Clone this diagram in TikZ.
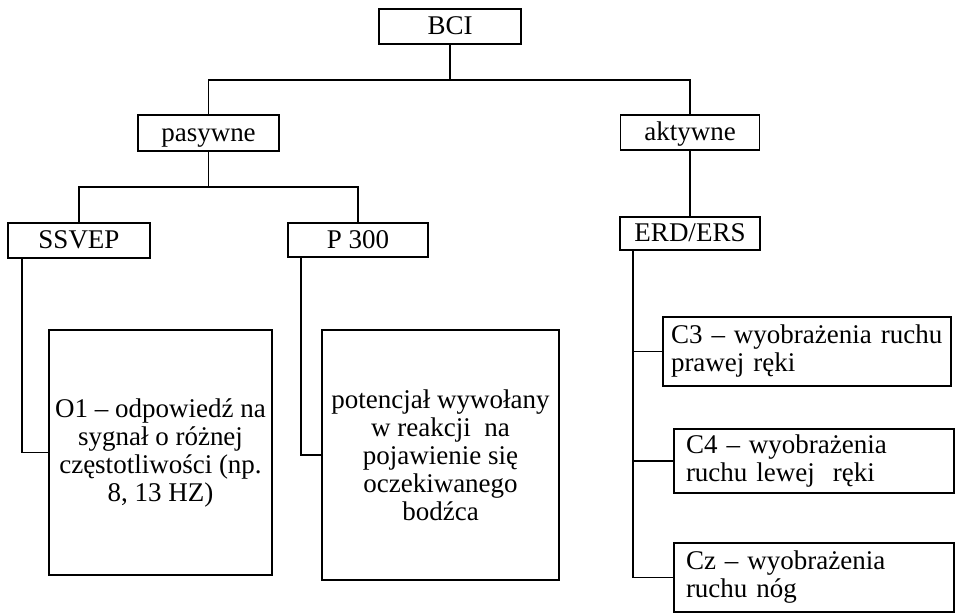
\documentclass[tikz,border=0pt]{standalone}
\usepackage{fontspec}
\setmainfont{Liberation Serif}
\begin{document}
\begin{tikzpicture}[x=1pt,y=-1pt,
  txt/.style={font=\fontsize{27}{28}\selectfont},
  box/.style={draw=black, line width=1.9pt, rectangle, inner sep=1pt, align=center, txt},
  sbox/.style={box, text height=20pt, text depth=4pt},
  lbox/.style={draw=black, line width=1.9pt, rectangle, inner ysep=0pt, text width=#1, align=left, txt},
  conn/.style={line width=1.9pt, draw=black}]
\useasboundingbox (0,0) rectangle (956,613);
% top levels
\node[sbox, minimum width=142pt, minimum height=35pt] (bci) at (450,26.5) {BCI};
\node[sbox, minimum width=141pt, minimum height=36pt] (pas) at (208.5,133) {pasywne};
\node[sbox, minimum width=139pt, minimum height=35pt] (akt) at (690,132.5) {aktywne};
\node[sbox, minimum width=142pt, minimum height=35pt] (ssvep) at (79,240.5) {SSVEP};
\node[sbox, minimum width=140pt, minimum height=34pt] (p300) at (358,240) {P 300};
\node[sbox, minimum width=140pt, minimum height=33pt] (erd) at (690,233.5) {ERD/ERS};
% description boxes
\node[box, minimum width=223pt, minimum height=245pt] (o1) at (160.5,452.5)
  {O1 – odpowiedź na\\sygnał o różnej\\częstotliwości (np.\\8, 13 HZ)};
\node[box, minimum width=237pt, minimum height=250pt] (pot) at (440.5,455)
  {potencjał wywołany\\w reakcji\ \ na\\pojawienie się\\oczekiwanego\\bodźca};
\node[lbox=272pt, inner xsep=8pt, minimum height=69pt] (c3) at (807,351.5)
  {C3 – wyobrażenia ruchu\\prawej ręki};
\node[lbox=256pt, inner xsep=12pt, minimum height=64pt] (c4) at (814,461)
  {C4 – wyobrażenia\\ruchu lewej\ \ ręki};
\node[lbox=256pt, inner xsep=12pt, minimum height=69pt] (cz) at (814,577.5)
  {Cz – wyobrażenia\\ruchu nóg};
% connectors
\coordinate (j1) at (450,80);
\draw[conn] (bci.south) -- (j1);
\draw[conn] (pas.north) |- (j1) -| (akt.north);
\coordinate (j2) at (208.5,187);
\draw[conn] (pas.south) -- (j2);
\draw[conn] (ssvep.north) |- (j2) -| (p300.north);
\draw[conn] (akt.south) -- (erd.north);
\coordinate (s1) at ([xshift=15pt]ssvep.south west);
\draw[conn] (s1) |- (o1.west);
\coordinate (p1) at ([xshift=14pt]p300.south west);
\draw[conn] (p1) |- (pot.west);
\coordinate (e1) at ([xshift=14pt]erd.south west);
\draw[conn] (e1) |- (cz.west);
\draw[conn] (e1) |- (c3.west);
\draw[conn] (e1) |- (c4.west);
\end{tikzpicture}
\end{document}
